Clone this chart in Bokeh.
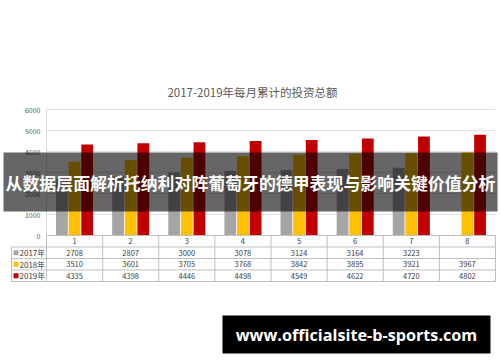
from bokeh.plotting import figure
from bokeh.models import Range1d
from bokeh.core.properties import value
from bokeh.embed import file_html
from bokeh.resources import INLINE

# ---- data ----
chart_title = "2017-2019年每月累计的投资总额"
months = [1, 2, 3, 4, 5, 6, 7, 8]
series_names = ["2017年", "2018年", "2019年"]
v2017 = [2708, 2807, 3000, 3078, 3124, 3164, 3223, None]
v2018 = [3510, 3601, 3705, 3768, 3842, 3895, 3921, 3967]
v2019 = [4335, 4398, 4446, 4498, 4549, 4622, 4720, 4802]
y_ticks = [0, 1000, 2000, 3000, 4000, 5000, 6000]
banner_text = "从数据层面解析托纳利对阵葡萄牙的德甲表现与影响关键价值分析"
watermark_text = "www.officialsite-b-sports.com"

series_values = [v2017, v2018, v2019]
colors = ["#A5A5A5", "#FFC000", "#C00000"]
offsets = [-0.225, 0.0, 0.225]

# ---- layout (pixel geometry -> data scale) ----
W, H = 500, 362
LEFT_PX, RIGHT_PX = 46, 495
COL_PX = (RIGHT_PX - LEFT_PX) / len(months)
ZERO_PX = 235.0
PX_PER_UNIT = 21.0 / 1000.0

x_start = 0.5 - LEFT_PX / COL_PX
x_end = x_start + W / COL_PX
y_end = ZERO_PX / PX_PER_UNIT
y_start = y_end - H / PX_PER_UNIT


def px2x(px):
    return x_start + px / COL_PX


def px2y(py):
    return y_end - py / PX_PER_UNIT


CJK = value("Noto Sans CJK SC")
GREY_TXT = "#595959"

p = figure(width=W, height=H, output_backend="svg", toolbar_location=None,
           x_range=Range1d(x_start, x_end), y_range=Range1d(y_start, y_end),
           min_border=0, background_fill_color="white",
           border_fill_color="white")
p.axis.visible = False
p.grid.visible = False
p.outline_line_color = None

# title
p.text(x=[px2x(252)], y=[px2y(91)], text=[chart_title], text_font=CJK,
       text_font_size=value("11.5px"), text_color=GREY_TXT,
       text_align="center", text_baseline="middle")

# gridlines + y labels
gl = [t for t in y_ticks if t > 0]
p.segment(x0=[px2x(LEFT_PX)] * len(gl), x1=[px2x(RIGHT_PX)] * len(gl),
          y0=gl, y1=gl, line_color="#E0E0E0", line_width=1)
p.segment(x0=[px2x(LEFT_PX)], x1=[px2x(LEFT_PX)], y0=[0], y1=[max(y_ticks)],
          line_color="#D9D9D9", line_width=1)
p.text(x=[px2x(40)] * len(y_ticks), y=y_ticks, text=[str(t) for t in y_ticks],
       text_font=CJK, text_font_size=value("7px"), text_color=GREY_TXT,
       text_align="right", text_baseline="middle")

# bars
for vals, col, off in zip(series_values, colors, offsets):
    xs = [m + off for m, v in zip(months, vals) if v is not None]
    tops = [v for v in vals if v is not None]
    p.vbar(x=xs, top=tops, bottom=0, width=0.21, fill_color=col,
           line_color=None)

# data table
row_lines = [235, 246.5, 258, 269.5, 281]
row_centers = [(row_lines[i] + row_lines[i + 1]) / 2 for i in range(4)]
line_col = "#BFBFBF"
p.segment(x0=[px2x(LEFT_PX)], x1=[px2x(RIGHT_PX)], y0=[px2y(row_lines[0])],
          y1=[px2y(row_lines[0])], line_color=line_col)
for ry in row_lines[1:]:
    p.segment(x0=[px2x(11)], x1=[px2x(RIGHT_PX)], y0=[px2y(ry)], y1=[px2y(ry)],
              line_color=line_col)
vx = [m - 0.5 for m in months] + [months[-1] + 0.5]
p.segment(x0=vx, x1=vx, y0=[px2y(row_lines[0])] * len(vx),
          y1=[px2y(row_lines[-1])] * len(vx), line_color=line_col)
p.segment(x0=[px2x(11)], x1=[px2x(11)], y0=[px2y(row_lines[1])],
          y1=[px2y(row_lines[-1])], line_color=line_col)
p.text(x=months, y=[px2y(row_centers[0])] * len(months),
       text=[str(m) for m in months], text_font=CJK,
       text_font_size=value("7.5px"), text_color="#404040",
       text_align="center", text_baseline="middle")
for i, (name, vals, col) in enumerate(zip(series_names, series_values, colors)):
    cy = px2y(row_centers[i + 1])
    xs = [m for m, v in zip(months, vals) if v is not None]
    ts = [str(v) for v in vals if v is not None]
    p.text(x=xs, y=[cy] * len(xs), text=ts, text_font=CJK,
           text_font_size=value("7.5px"), text_color="#404040",
           text_align="center", text_baseline="middle")
    p.rect(x=[px2x(15.5)], y=[cy], width=5 / COL_PX, height=5 / 21 * 1000,
           fill_color=col, line_color=None)
    p.text(x=[px2x(19)], y=[cy], text=[name], text_font=CJK,
           text_font_size=value("8px"), text_color="#404040",
           text_align="left", text_baseline="middle")

# banner overlay
p.quad(left=[px2x(3)], right=[px2x(497)], top=[px2y(152)], bottom=[px2y(211)],
       fill_color="black", fill_alpha=0.6, line_color=None)
p.text(x=[px2x(250)], y=[px2y(182)], text=[banner_text], text_font=CJK,
       text_font_size=value("16.9px"), text_font_style="bold",
       text_color="white", text_align="center", text_baseline="middle")

# watermark
p.quad(left=[px2x(222)], right=[px2x(490)], top=[px2y(315)], bottom=[px2y(353)],
       fill_color="black", line_color=None)
p.text(x=[px2x(356)], y=[px2y(334)], text=[watermark_text],
       text_font=value("Open Sans"), text_font_size=value("16.2px"),
       text_font_style="bold", text_color="white", text_align="center",
       text_baseline="middle")

open("out.html", "w").write(file_html(p, INLINE))
